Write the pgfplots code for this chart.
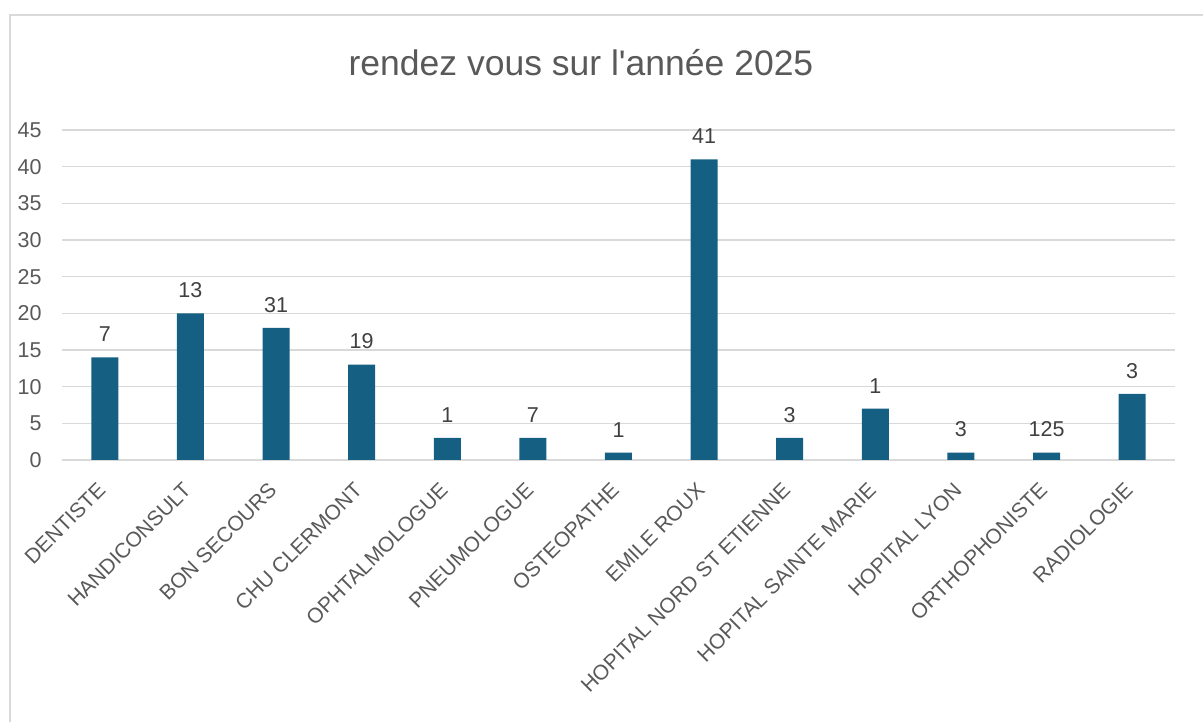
\documentclass[border=0pt]{standalone}
\usepackage{pgfplots}
\pgfplotsset{compat=1.18}
\usepackage{pgfplotstable}
\usepackage{fontspec}
\setmainfont{Liberation Sans}
\definecolor{barc}{HTML}{156082}
\definecolor{txt}{HTML}{595959}
\definecolor{lbl}{HTML}{404040}
\definecolor{gridc}{HTML}{D9D9D9}
\pgfplotstableread{
x y lab
0 14 7
1 20 13
2 18 31
3 13 19
4 3 1
5 3 7
6 1 1
7 41 41
8 3 3
9 7 1
10 1 3
11 1 125
12 9 3
}\data
\begin{document}
\begin{tikzpicture}[x=1pt,y=1pt]
\useasboundingbox (0,0) rectangle (1203,722);
\draw[gridc, line width=1.5pt] (10,-20) rectangle (1230,707);
\node[txt, font=\fontsize{35.5}{42}\selectfont] at (581,659) {rendez vous sur l\textquotesingle année 2025};
\begin{axis}[
  at={(62pt,262pt)}, anchor=south west,
  scale only axis, width=1113pt, height=330pt,
  xmin=-0.5, xmax=12.5, ymin=0, ymax=45,
  ytick={0,5,...,45},
  xtick={0,...,12},
  xticklabels={DENTISTE,HANDICONSULT,BON SECOURS,CHU CLERMONT,OPHTALMOLOGUE,PNEUMOLOGUE,OSTEOPATHE,EMILE ROUX,HOPITAL NORD ST ETIENNE,HOPITAL SAINTE MARIE,HOPITAL LYON,ORTHOPHONISTE,RADIOLOGIE},
  axis line style={draw=none},
  major tick length=0pt,
  ymajorgrids, grid style={gridc, line width=1.5pt},
  /pgf/number format/assume math mode=true,
  yticklabel style={txt, font=\fontsize{21.5}{25}\selectfont, xshift=-17pt},
  xticklabel style={txt, font=\fontsize{21}{25}\selectfont, rotate=45, anchor=north east, inner sep=3pt, xshift=-18pt, yshift=-6pt},
  ybar, bar width=27pt,
  nodes near coords,
  point meta=explicit symbolic,
  every node near coord/.append style={lbl, font=\fontsize{21.5}{25}\selectfont, yshift=12pt},
  clip=false,
]
\addplot[fill=barc, draw=none] table[x=x, y=y, meta=lab] {\data};
\end{axis}
\end{tikzpicture}
\end{document}
